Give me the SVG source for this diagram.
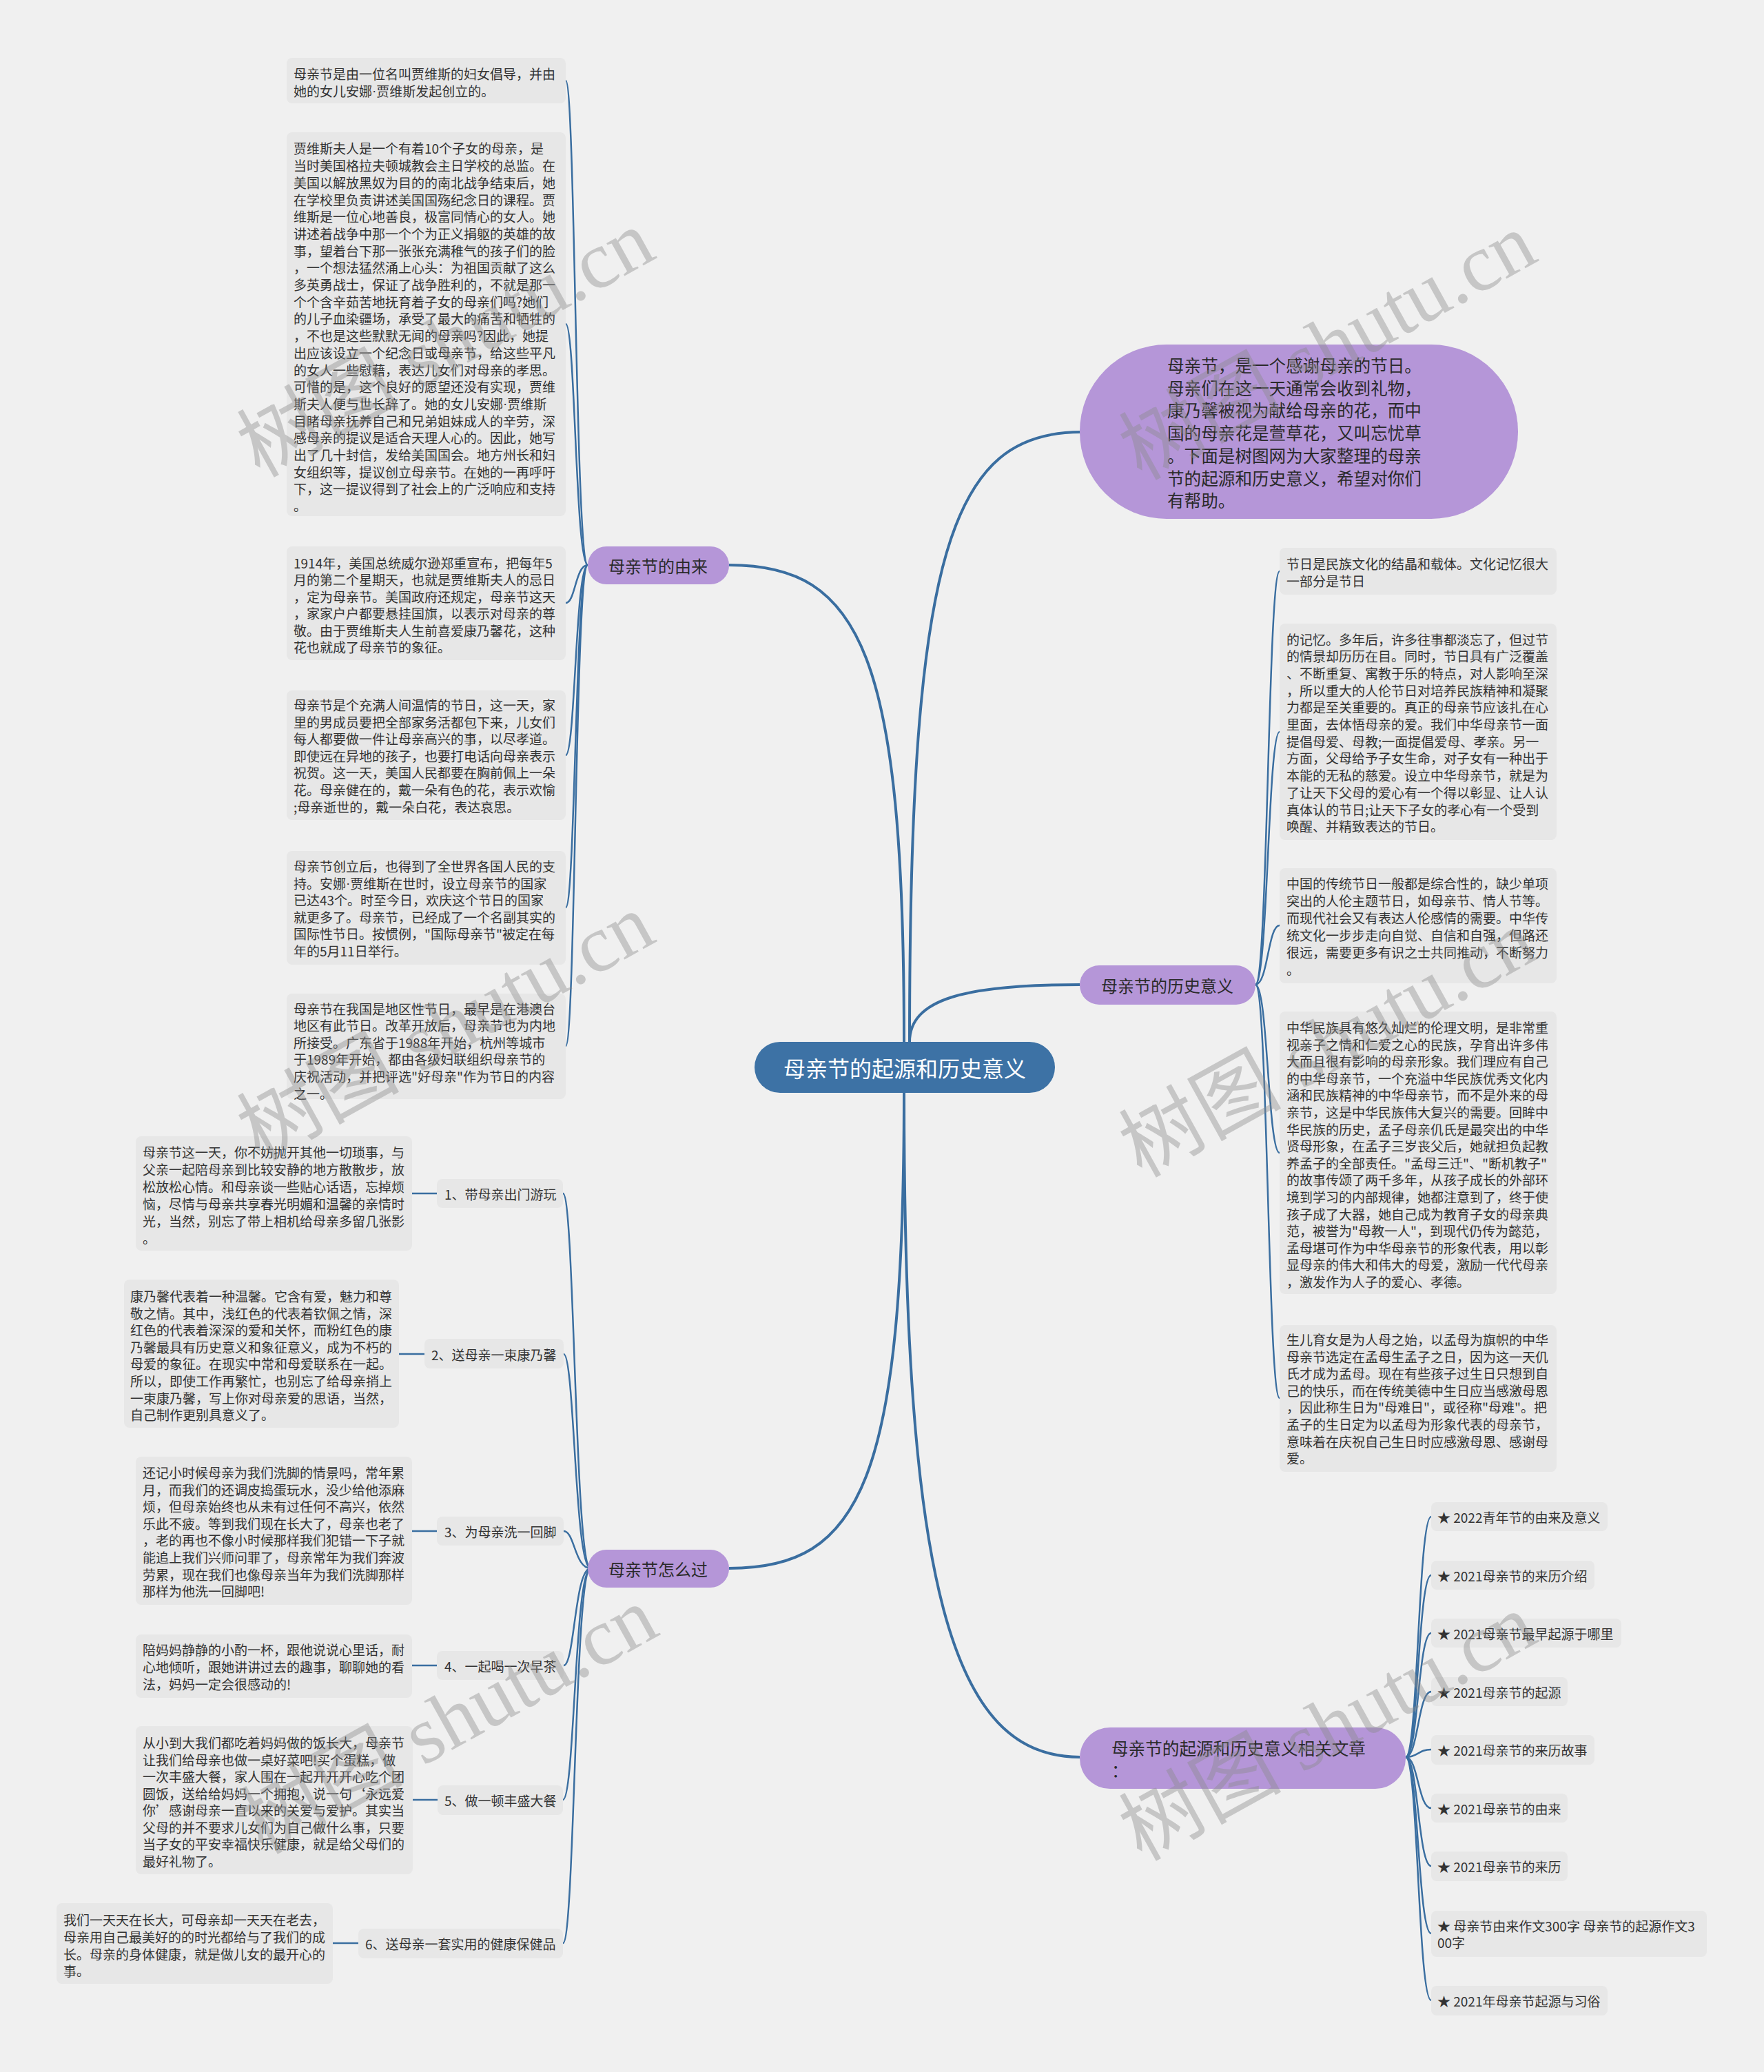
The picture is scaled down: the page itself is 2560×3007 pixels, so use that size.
<svg xmlns="http://www.w3.org/2000/svg" width="2560" height="3007" viewBox="0 0 2560 3007">
<style>
.bg{fill:#f0f0f0}
.leaf{fill:#e7e7e7}
.p{fill:#b596d8}
.t{font-family:"Noto Sans CJK SC","Noto Sans",sans-serif;font-size:19px;fill:#333;dominant-baseline:central}
.t tspan{dominant-baseline:central}
.d{font-family:"Liberation Sans",sans-serif}
.tl{font-family:"Noto Sans CJK SC","Noto Sans",sans-serif;font-size:24px;fill:#2a2a2a;dominant-baseline:central}
.tl tspan{dominant-baseline:central}
.conn path{fill:none;stroke:#3a6ea0;stroke-width:2.5}
.conn .main{stroke-width:4}
.wm{font-family:"Liberation Serif","Noto Sans CJK SC",serif;font-size:118px;fill:#8a8a8a;opacity:0.4;dominant-baseline:central}
</style>
<rect class="bg" x="0" y="0" width="2560" height="3007"/>
<g class="conn">
<path class="main" d="M1312,1512 C1312,950 1250,820 1058,820"/>
<path class="main" d="M1320,1512 C1320,800 1380,627 1569,627"/>
<path class="main" d="M1320,1512 C1320,1450 1400,1429 1567,1429"/>
<path class="main" d="M1312,1586 C1312,2300 1380,2550 1567,2550"/>
<path class="main" d="M1312,1586 C1312,2150 1250,2276 1058,2276"/>
<path d="M853,820 C835,820 835,117 821,117"/>
<path d="M853,820 C835,820 835,470 821,470"/>
<path d="M853,820 C835,820 835,875 821,875"/>
<path d="M853,820 C835,820 835,1096 821,1096"/>
<path d="M853,820 C835,820 835,1317 821,1317"/>
<path d="M853,820 C835,820 835,1518 821,1518"/>
<path d="M857,2276 C834,2276 834,1732 817,1732"/>
<path d="M857,2276 C834,2276 834,1965 818,1965"/>
<path d="M857,2276 C834,2276 834,2222 818,2222"/>
<path d="M857,2276 C834,2276 834,2417 818,2417"/>
<path d="M857,2276 C834,2276 834,2612 817,2612"/>
<path d="M857,2276 C834,2276 834,2820 817,2820"/>
<path d="M598,1732 H634"/>
<path d="M579,1965 H616"/>
<path d="M598,2222 H634"/>
<path d="M598,2417 H634"/>
<path d="M599,2612 H635"/>
<path d="M483,2820 H520"/>
<path d="M1822,1429 C1840,1429 1840,829 1857,829"/>
<path d="M1822,1429 C1840,1429 1840,1062 1857,1062"/>
<path d="M1822,1429 C1840,1429 1840,1343 1857,1343"/>
<path d="M1822,1429 C1840,1429 1840,1673 1857,1673"/>
<path d="M1822,1429 C1840,1429 1840,2029 1857,2029"/>
<path d="M2040,2550 C2058,2550 2058,2201 2077,2201"/>
<path d="M2040,2550 C2058,2550 2058,2286 2077,2286"/>
<path d="M2040,2550 C2058,2550 2058,2370 2077,2370"/>
<path d="M2040,2550 C2058,2550 2058,2455 2077,2455"/>
<path d="M2040,2550 C2058,2550 2058,2539 2077,2539"/>
<path d="M2040,2550 C2058,2550 2058,2624 2077,2624"/>
<path d="M2040,2550 C2058,2550 2058,2708 2077,2708"/>
<path d="M2040,2550 C2058,2550 2058,2806 2077,2806"/>
<path d="M2040,2550 C2058,2550 2058,2903 2077,2903"/>
</g>
<g id="root">
<rect x="1095" y="1512" width="436" height="74" rx="37" fill="#3d72a5"/>
<text x="1313" y="1549" text-anchor="middle" style="font-family:'Noto Sans CJK SC','Noto Sans',sans-serif;font-size:32px;fill:#fff;dominant-baseline:central">母亲节的起源和历史意义</text>
</g>
<g id="n-youlai">
<rect class="p" x="853" y="793" width="205" height="55" rx="27"/>
<text class="tl" x="955" y="820" text-anchor="middle">母亲节的由来</text>
</g>
<g id="n-zenmeguo">
<rect class="p" x="853" y="2249" width="205" height="55" rx="27"/>
<text class="tl" x="955" y="2276" text-anchor="middle">母亲节怎么过</text>
</g>
<g id="n-intro">
<rect class="p" x="1567" y="500" width="636" height="253" rx="126"/>
<text class="tl" style="font-size:24.6px"><tspan x="1694" y="529">母亲节，是一个感谢母亲的节日。</tspan><tspan x="1694" y="561.7">母亲们在这一天通常会收到礼物，</tspan><tspan x="1694" y="594.4">康乃馨被视为献给母亲的花，而中</tspan><tspan x="1694" y="627.1">国的母亲花是萱草花，又叫忘忧草</tspan><tspan x="1694" y="659.8">。下面是树图网为大家整理的母亲</tspan><tspan x="1694" y="692.5">节的起源和历史意义，希望对你们</tspan><tspan x="1694" y="725.2">有帮助。</tspan></text>
</g>
<g id="n-lishi">
<rect class="p" x="1567" y="1401" width="255" height="57" rx="28"/>
<text class="tl" x="1694" y="1429.5" text-anchor="middle">母亲节的历史意义</text>
</g>
<g id="n-xiangguan">
<rect class="p" x="1567" y="2507" width="473" height="89" rx="44"/>
<text class="tl" style="font-size:24.6px"><tspan x="1613" y="2536">母亲节的起源和历史意义相关文章</tspan><tspan x="1613" y="2568">：</tspan></text>
</g>
<g id="leaf-a">
<rect class="leaf" x="416" y="84" width="405" height="66" rx="8"/>
<text class="t"><tspan x="426" y="106">母亲节是由一位名叫贾维斯的妇女倡导，并由</tspan><tspan x="426" y="130.7">她的女儿安娜<tspan class="d">·</tspan>贾维斯发起创立的。</tspan></text>
</g>
<g id="leaf-b">
<rect class="leaf" x="416" y="192" width="405" height="557" rx="8"/>
<text class="t"><tspan x="426" y="214.4">贾维斯夫人是一个有着10个子女的母亲，是</tspan><tspan x="426" y="239.1">当时美国格拉夫顿城教会主日学校的总监。在</tspan><tspan x="426" y="263.8">美国以解放黑奴为目的的南北战争结束后，她</tspan><tspan x="426" y="288.5">在学校里负责讲述美国国殇纪念日的课程。贾</tspan><tspan x="426" y="313.2">维斯是一位心地善良，极富同情心的女人。她</tspan><tspan x="426" y="337.9">讲述着战争中那一个个为正义捐躯的英雄的故</tspan><tspan x="426" y="362.6">事，望着台下那一张张充满稚气的孩子们的脸</tspan><tspan x="426" y="387.3">，一个想法猛然涌上心头：为祖国贡献了这么</tspan><tspan x="426" y="412">多英勇战士，保证了战争胜利的，不就是那一</tspan><tspan x="426" y="436.7">个个含辛茹苦地抚育着子女的母亲们吗?她们</tspan><tspan x="426" y="461.4">的儿子血染疆场，承受了最大的痛苦和牺牲的</tspan><tspan x="426" y="486.1">，不也是这些默默无闻的母亲吗?因此，她提</tspan><tspan x="426" y="510.8">出应该设立一个纪念日或母亲节，给这些平凡</tspan><tspan x="426" y="535.5">的女人一些慰藉，表达儿女们对母亲的孝思。</tspan><tspan x="426" y="560.2">可惜的是，这个良好的愿望还没有实现，贾维</tspan><tspan x="426" y="584.9">斯夫人便与世长辞了。她的女儿安娜<tspan class="d">·</tspan>贾维斯</tspan><tspan x="426" y="609.6">目睹母亲抚养自己和兄弟姐妹成人的辛劳，深</tspan><tspan x="426" y="634.3">感母亲的提议是适合天理人心的。因此，她写</tspan><tspan x="426" y="659">出了几十封信，发给美国国会。地方州长和妇</tspan><tspan x="426" y="683.7">女组织等，提议创立母亲节。在她的一再呼吁</tspan><tspan x="426" y="708.4">下，这一提议得到了社会上的广泛响应和支持</tspan><tspan x="426" y="733.1">。</tspan></text>
</g>
<g id="leaf-c">
<rect class="leaf" x="416" y="793" width="405" height="165" rx="8"/>
<text class="t"><tspan x="426" y="815.6">1914年，美国总统威尔逊郑重宣布，把每年5</tspan><tspan x="426" y="840.1">月的第二个星期天，也就是贾维斯夫人的忌日</tspan><tspan x="426" y="864.6">，定为母亲节。美国政府还规定，母亲节这天</tspan><tspan x="426" y="889.1">，家家户户都要悬挂国旗，以表示对母亲的尊</tspan><tspan x="426" y="913.6">敬。由于贾维斯夫人生前喜爱康乃馨花，这种</tspan><tspan x="426" y="938.1">花也就成了母亲节的象征。</tspan></text>
</g>
<g id="leaf-d">
<rect class="leaf" x="416" y="1002" width="405" height="188" rx="8"/>
<text class="t"><tspan x="426" y="1022">母亲节是个充满人间温情的节日，这一天，家</tspan><tspan x="426" y="1046.6">里的男成员要把全部家务活都包下来，儿女们</tspan><tspan x="426" y="1071.2">每人都要做一件让母亲高兴的事，以尽孝道。</tspan><tspan x="426" y="1095.8">即使远在异地的孩子，也要打电话向母亲表示</tspan><tspan x="426" y="1120.4">祝贺。这一天，美国人民都要在胸前佩上一朵</tspan><tspan x="426" y="1145">花。母亲健在的，戴一朵有色的花，表示欢愉</tspan><tspan x="426" y="1169.6">;母亲逝世的，戴一朵白花，表达哀思。</tspan></text>
</g>
<g id="leaf-e">
<rect class="leaf" x="416" y="1235" width="405" height="165" rx="8"/>
<text class="t"><tspan x="426" y="1256">母亲节创立后，也得到了全世界各国人民的支</tspan><tspan x="426" y="1280.6">持。安娜<tspan class="d">·</tspan>贾维斯在世时，设立母亲节的国家</tspan><tspan x="426" y="1305.2">已达43个。时至今日，欢庆这个节日的国家</tspan><tspan x="426" y="1329.8">就更多了。母亲节，已经成了一个名副其实的</tspan><tspan x="426" y="1354.4">国际性节日。按惯例，"国际母亲节"被定在每</tspan><tspan x="426" y="1379">年的5月11日举行。</tspan></text>
</g>
<g id="leaf-f">
<rect class="leaf" x="416" y="1442" width="405" height="153" rx="8"/>
<text class="t"><tspan x="426" y="1462.5">母亲节在我国是地区性节日，最早是在港澳台</tspan><tspan x="426" y="1487.1">地区有此节日。改革开放后，母亲节也为内地</tspan><tspan x="426" y="1511.7">所接受。广东省于1988年开始，杭州等城市</tspan><tspan x="426" y="1536.3">于1989年开始，都由各级妇联组织母亲节的</tspan><tspan x="426" y="1560.9">庆祝活动，并把评选"好母亲"作为节日的内容</tspan><tspan x="426" y="1585.5">之一。</tspan></text>
</g>
<g id="sub-1">
<rect class="leaf" x="634" y="1711" width="183" height="42" rx="8"/>
<text class="t" x="645" y="1732">1、带母亲出门游玩</text>
</g>
<g id="sub-2">
<rect class="leaf" x="616" y="1943" width="202" height="43" rx="8"/>
<text class="t" x="626" y="1965">2、送母亲一束康乃馨</text>
</g>
<g id="sub-3">
<rect class="leaf" x="634" y="2201" width="184" height="42" rx="8"/>
<text class="t" x="645" y="2222">3、为母亲洗一回脚</text>
</g>
<g id="sub-4">
<rect class="leaf" x="634" y="2396" width="184" height="42" rx="8"/>
<text class="t" x="645" y="2417">4、一起喝一次早茶</text>
</g>
<g id="sub-5">
<rect class="leaf" x="635" y="2591" width="182" height="43" rx="8"/>
<text class="t" x="645" y="2612">5、做一顿丰盛大餐</text>
</g>
<g id="sub-6">
<rect class="leaf" x="520" y="2799" width="297" height="43" rx="8"/>
<text class="t" x="530" y="2820">6、送母亲一套实用的健康保健品</text>
</g>
<g id="leaf-s1">
<rect class="leaf" x="197" y="1649" width="401" height="166" rx="8"/>
<text class="t"><tspan x="207" y="1671">母亲节这一天，你不妨抛开其他一切琐事，与</tspan><tspan x="207" y="1695.9">父亲一起陪母亲到比较安静的地方散散步，放</tspan><tspan x="207" y="1720.8">松放松心情。和母亲谈一些贴心话语，忘掉烦</tspan><tspan x="207" y="1745.7">恼，尽情与母亲共享春光明媚和温馨的亲情时</tspan><tspan x="207" y="1770.6">光，当然，别忘了带上相机给母亲多留几张影</tspan><tspan x="207" y="1795.5">。</tspan></text>
</g>
<g id="leaf-s2">
<rect class="leaf" x="180" y="1857" width="399" height="215" rx="8"/>
<text class="t"><tspan x="189" y="1880">康乃馨代表着一种温馨。它含有爱，魅力和尊</tspan><tspan x="189" y="1904.6">敬之情。其中，浅红色的代表着钦佩之情，深</tspan><tspan x="189" y="1929.2">红色的代表着深深的爱和关怀，而粉红色的康</tspan><tspan x="189" y="1953.8">乃馨最具有历史意义和象征意义，成为不朽的</tspan><tspan x="189" y="1978.4">母爱的象征。在现实中常和母爱联系在一起。</tspan><tspan x="189" y="2003">所以，即使工作再繁忙，也别忘了给母亲捎上</tspan><tspan x="189" y="2027.6">一束康乃馨，写上你对母亲爱的思语，当然，</tspan><tspan x="189" y="2052.2">自己制作更别具意义了。</tspan></text>
</g>
<g id="leaf-s3">
<rect class="leaf" x="197" y="2114" width="401" height="215" rx="8"/>
<text class="t"><tspan x="207" y="2136">还记小时候母亲为我们洗脚的情景吗，常年累</tspan><tspan x="207" y="2160.6">月，而我们的还调皮捣蛋玩水，没少给他添麻</tspan><tspan x="207" y="2185.2">烦，但母亲始终也从未有过任何不高兴，依然</tspan><tspan x="207" y="2209.8">乐此不疲。等到我们现在长大了，母亲也老了</tspan><tspan x="207" y="2234.4">，老的再也不像小时候那样我们犯错一下子就</tspan><tspan x="207" y="2259">能追上我们兴师问罪了，母亲常年为我们奔波</tspan><tspan x="207" y="2283.6">劳累，现在我们也像母亲当年为我们洗脚那样</tspan><tspan x="207" y="2308.2">那样为他洗一回脚吧!</tspan></text>
</g>
<g id="leaf-s4">
<rect class="leaf" x="197" y="2372" width="401" height="92" rx="8"/>
<text class="t"><tspan x="207" y="2393">陪妈妈静静的小酌一杯，跟他说说心里话，耐</tspan><tspan x="207" y="2418">心地倾听，跟她讲讲过去的趣事，聊聊她的看</tspan><tspan x="207" y="2443">法，妈妈一定会很感动的!</tspan></text>
</g>
<g id="leaf-s5">
<rect class="leaf" x="197" y="2505" width="402" height="215" rx="8"/>
<text class="t"><tspan x="207" y="2528">从小到大我们都吃着妈妈做的饭长大，母亲节</tspan><tspan x="207" y="2552.5">让我们给母亲也做一桌好菜吧!买个蛋糕，做</tspan><tspan x="207" y="2577">一次丰盛大餐，家人围在一起开开开心吃个团</tspan><tspan x="207" y="2601.5">圆饭，送给给妈妈一个拥抱，说一句‘永远爱</tspan><tspan x="207" y="2626">你’感谢母亲一直以来的关爱与爱护。其实当</tspan><tspan x="207" y="2650.5">父母的并不要求儿女们为自己做什么事，只要</tspan><tspan x="207" y="2675">当子女的平安幸福快乐健康，就是给父母们的</tspan><tspan x="207" y="2699.5">最好礼物了。</tspan></text>
</g>
<g id="leaf-s6">
<rect class="leaf" x="82" y="2762" width="401" height="117" rx="8"/>
<text class="t"><tspan x="92" y="2785">我们一天天在长大，可母亲却一天天在老去，</tspan><tspan x="92" y="2810">母亲用自己最美好的的时光都给与了我们的成</tspan><tspan x="92" y="2835">长。母亲的身体健康，就是做儿女的最开心的</tspan><tspan x="92" y="2859">事。</tspan></text>
</g>
<g id="leaf-r1">
<rect class="leaf" x="1857" y="795" width="402" height="68" rx="8"/>
<text class="t"><tspan x="1867" y="816.6">节日是民族文化的结晶和载体。文化记忆很大</tspan><tspan x="1867" y="841.6">一部分是节日</tspan></text>
</g>
<g id="leaf-r2">
<rect class="leaf" x="1857" y="905" width="402" height="314" rx="8"/>
<text class="t"><tspan x="1867" y="926.5">的记忆。多年后，许多往事都淡忘了，但过节</tspan><tspan x="1867" y="951.2">的情景却历历在目。同时，节日具有广泛覆盖</tspan><tspan x="1867" y="975.9">、不断重复、寓教于乐的特点，对人影响至深</tspan><tspan x="1867" y="1000.6">，所以重大的人伦节日对培养民族精神和凝聚</tspan><tspan x="1867" y="1025.3">力都是至关重要的。真正的母亲节应该扎在心</tspan><tspan x="1867" y="1050">里面，去体悟母亲的爱。我们中华母亲节一面</tspan><tspan x="1867" y="1074.7">提倡母爱、母教;一面提倡爱母、孝亲。另一</tspan><tspan x="1867" y="1099.4">方面，父母给予子女生命，对子女有一种出于</tspan><tspan x="1867" y="1124.1">本能的无私的慈爱。设立中华母亲节，就是为</tspan><tspan x="1867" y="1148.8">了让天下父母的爱心有一个得以彰显、让人认</tspan><tspan x="1867" y="1173.5">真体认的节日;让天下子女的孝心有一个受到</tspan><tspan x="1867" y="1198.2">唤醒、并精致表达的节日。</tspan></text>
</g>
<g id="leaf-r3">
<rect class="leaf" x="1857" y="1260" width="402" height="167" rx="8"/>
<text class="t"><tspan x="1867" y="1281">中国的传统节日一般都是综合性的，缺少单项</tspan><tspan x="1867" y="1305.9">突出的人伦主题节日，如母亲节、情人节等。</tspan><tspan x="1867" y="1330.8">而现代社会又有表达人伦感情的需要。中华传</tspan><tspan x="1867" y="1355.7">统文化一步步走向自觉、自信和自强，但路还</tspan><tspan x="1867" y="1380.6">很远，需要更多有识之士共同推动，不断努力</tspan><tspan x="1867" y="1405.5">。</tspan></text>
</g>
<g id="leaf-r4">
<rect class="leaf" x="1857" y="1468" width="402" height="410" rx="8"/>
<text class="t"><tspan x="1867" y="1490">中华民族具有悠久灿烂的伦理文明，是非常重</tspan><tspan x="1867" y="1514.6">视亲子之情和仁爱之心的民族，孕育出许多伟</tspan><tspan x="1867" y="1539.2">大而且很有影响的母亲形象。我们理应有自己</tspan><tspan x="1867" y="1563.8">的中华母亲节，一个充溢中华民族优秀文化内</tspan><tspan x="1867" y="1588.4">涵和民族精神的中华母亲节，而不是外来的母</tspan><tspan x="1867" y="1613">亲节，这是中华民族伟大复兴的需要。回眸中</tspan><tspan x="1867" y="1637.6">华民族的历史，孟子母亲仉氏是最突出的中华</tspan><tspan x="1867" y="1662.2">贤母形象，在孟子三岁丧父后，她就担负起教</tspan><tspan x="1867" y="1686.8">养孟子的全部责任。"孟母三迁"、"断机教子"</tspan><tspan x="1867" y="1711.4">的故事传颂了两千多年，从孩子成长的外部环</tspan><tspan x="1867" y="1736">境到学习的内部规律，她都注意到了，终于使</tspan><tspan x="1867" y="1760.6">孩子成了大器，她自己成为教育子女的母亲典</tspan><tspan x="1867" y="1785.2">范，被誉为"母教一人"，到现代仍传为懿范，</tspan><tspan x="1867" y="1809.8">孟母堪可作为中华母亲节的形象代表，用以彰</tspan><tspan x="1867" y="1834.4">显母亲的伟大和伟大的母爱，激励一代代母亲</tspan><tspan x="1867" y="1859">，激发作为人子的爱心、孝德。</tspan></text>
</g>
<g id="leaf-r5">
<rect class="leaf" x="1857" y="1923" width="402" height="213" rx="8"/>
<text class="t"><tspan x="1867" y="1943">生儿育女是为人母之始，以孟母为旗帜的中华</tspan><tspan x="1867" y="1967.6">母亲节选定在孟母生孟子之日，因为这一天仉</tspan><tspan x="1867" y="1992.2">氏才成为孟母。现在有些孩子过生日只想到自</tspan><tspan x="1867" y="2016.8">己的快乐，而在传统美德中生日应当感激母恩</tspan><tspan x="1867" y="2041.4">，因此称生日为"母难日"，或径称"母难"。把</tspan><tspan x="1867" y="2066">孟子的生日定为以孟母为形象代表的母亲节，</tspan><tspan x="1867" y="2090.6">意味着在庆祝自己生日时应感激母恩、感谢母</tspan><tspan x="1867" y="2115.2">爱。</tspan></text>
</g>
<g id="art-1"><rect class="leaf" x="2077" y="2180" width="256" height="42" rx="8"/><text class="t" x="2086" y="2201">★ 2022青年节的由来及意义</text></g>
<g id="art-2"><rect class="leaf" x="2077" y="2265" width="237" height="42" rx="8"/><text class="t" x="2086" y="2286">★ 2021母亲节的来历介绍</text></g>
<g id="art-3"><rect class="leaf" x="2077" y="2349" width="276" height="42" rx="8"/><text class="t" x="2086" y="2370">★ 2021母亲节最早起源于哪里</text></g>
<g id="art-4"><rect class="leaf" x="2077" y="2434" width="198" height="42" rx="8"/><text class="t" x="2086" y="2455">★ 2021母亲节的起源</text></g>
<g id="art-5"><rect class="leaf" x="2077" y="2518" width="237" height="43" rx="8"/><text class="t" x="2086" y="2539.5">★ 2021母亲节的来历故事</text></g>
<g id="art-6"><rect class="leaf" x="2077" y="2603" width="198" height="42" rx="8"/><text class="t" x="2086" y="2624">★ 2021母亲节的由来</text></g>
<g id="art-7"><rect class="leaf" x="2077" y="2687" width="198" height="43" rx="8"/><text class="t" x="2086" y="2708.5">★ 2021母亲节的来历</text></g>
<g id="art-8"><rect class="leaf" x="2077" y="2773" width="400" height="67" rx="8"/><text class="t"><tspan x="2086" y="2794">★ 母亲节由来作文300字 母亲节的起源作文3</tspan><tspan x="2086" y="2818">00字</tspan></text></g>
<g id="art-9"><rect class="leaf" x="2077" y="2882" width="256" height="43" rx="8"/><text class="t" x="2086" y="2903.5">★ 2021年母亲节起源与习俗</text></g>
<g id="watermarks">
<text class="wm" text-anchor="middle" transform="translate(647,499) rotate(-29)">树图 shutu.cn</text>
<text class="wm" text-anchor="middle" transform="translate(1927,503) rotate(-29)">树图 shutu.cn</text>
<text class="wm" text-anchor="middle" transform="translate(647,1491) rotate(-29)">树图 shutu.cn</text>
<text class="wm" text-anchor="middle" transform="translate(1927,1515) rotate(-29)">树图 shutu.cn</text>
<text class="wm" text-anchor="middle" transform="translate(652,2497) rotate(-29)">树图 shutu.cn</text>
<text class="wm" text-anchor="middle" transform="translate(1927,2507) rotate(-29)">树图 shutu.cn</text>
</g>
</svg>
